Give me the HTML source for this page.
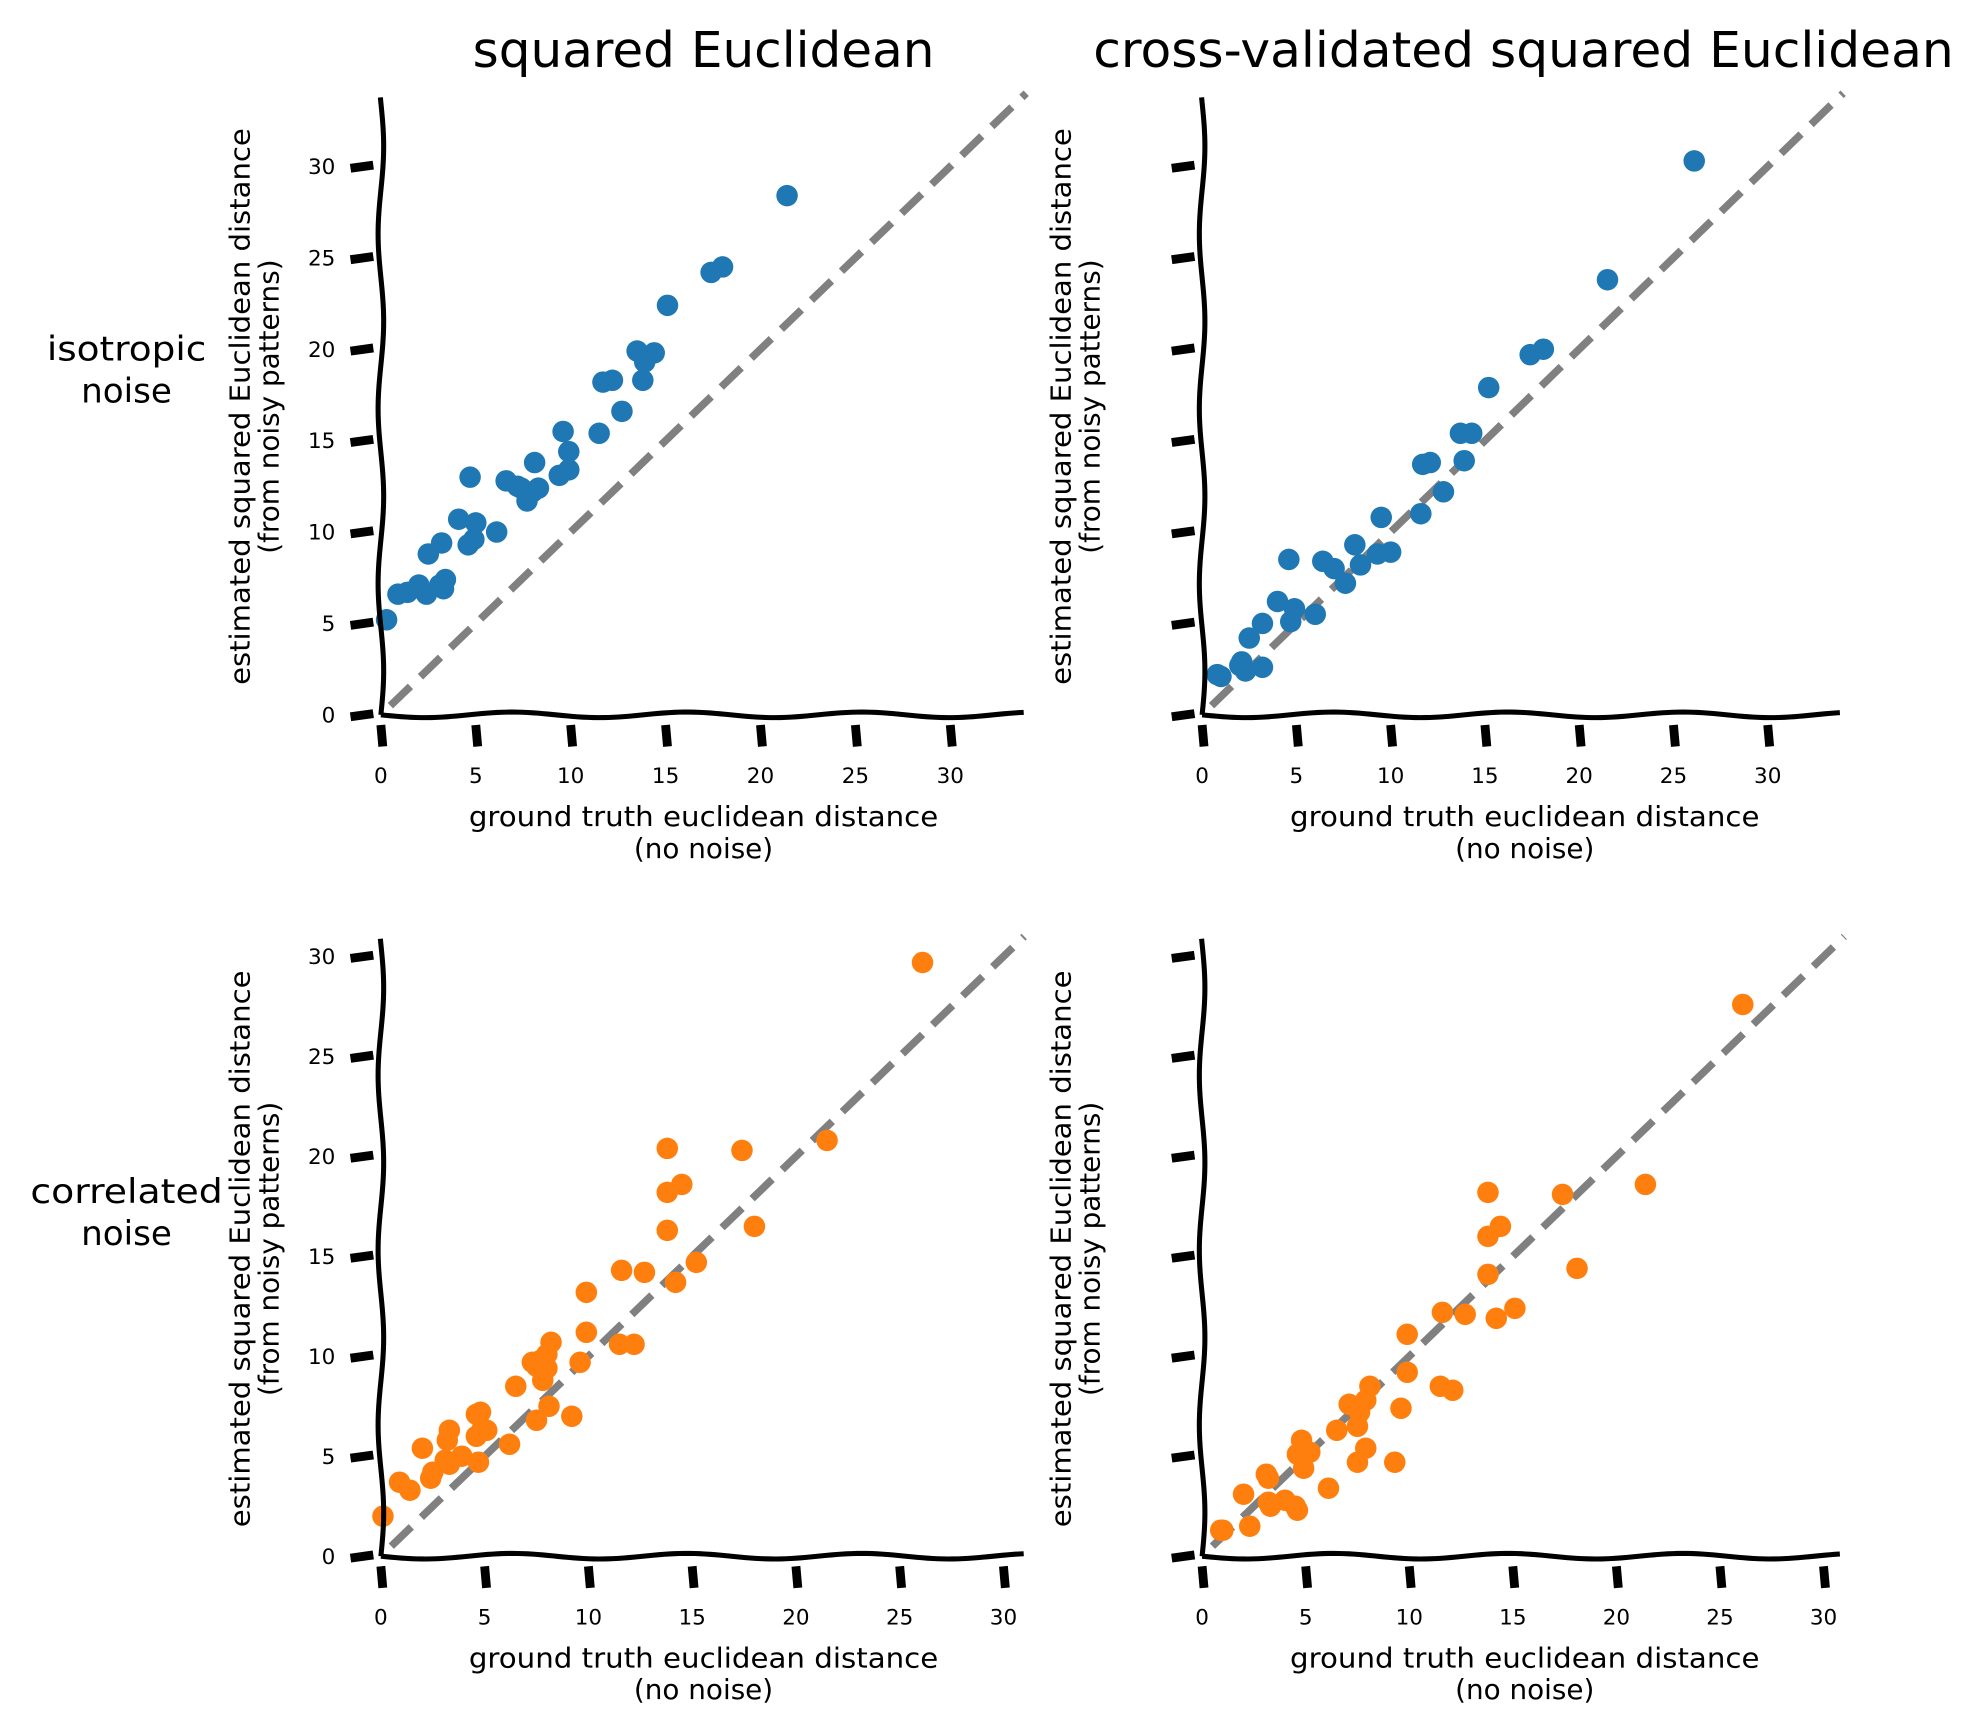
<!DOCTYPE html>
<html><head><meta charset="utf-8"><style>
html,body{margin:0;padding:0;background:#fff;}
svg{display:block;}
text{font-family:"DejaVu Sans","Liberation Sans",sans-serif;fill:#000;}
</style></head><body>
<svg id="fig" width="1974" height="1727" viewBox="0 0 1560 1365" preserveAspectRatio="none" xmlns="http://www.w3.org/2000/svg">
<rect width="1560" height="1365" fill="#fff"/>
<text x="556" y="53" font-size="39" text-anchor="middle" textLength="365" lengthAdjust="spacingAndGlyphs">squared Euclidean</text>
<text x="1204" y="53" font-size="39" text-anchor="middle" textLength="680" lengthAdjust="spacingAndGlyphs">cross-validated squared Euclidean</text>
<text x="100" y="285" font-size="27" text-anchor="middle" textLength="126" lengthAdjust="spacingAndGlyphs">isotropic</text>
<text x="100" y="318" font-size="27" text-anchor="middle">noise</text>
<text x="100" y="951" font-size="27" text-anchor="middle" textLength="152" lengthAdjust="spacingAndGlyphs">correlated</text>
<text x="100" y="984" font-size="27" text-anchor="middle">noise</text>
</svg>
<script>
const tlX=[21.4,18.0,17.4,15.1,14.4,13.5,13.9,13.8,12.2,11.7,11.5,12.7,9.6,9.9,9.9,9.4,8.1,8.3,8.0,7.4,7.7,7.2,6.6,4.7,4.1,5.0,4.6,4.9,6.1,3.2,2.5,3.4,3.1,3.3,2.4,2.0,1.4,0.9,0.3];
const tlY=[28.4,24.5,24.2,22.4,19.8,19.9,19.3,18.3,18.3,18.2,15.4,16.6,15.5,14.4,13.4,13.1,13.8,12.4,12.2,12.4,11.7,12.5,12.8,13.0,10.7,10.5,9.3,9.6,10.0,9.4,8.8,7.4,7.1,6.9,6.6,7.1,6.7,6.6,5.2];
const trX=[26.1,21.5,18.1,17.4,15.2,14.3,13.7,13.9,12.1,11.7,12.8,11.6,9.5,10.0,9.3,8.1,8.4,7.6,7.0,6.4,6.0,4.6,4.9,4.7,4.0,3.2,3.2,2.5,2.3,2.1,2.0,1.0,0.8];
const trY=[30.3,23.8,20.0,19.7,17.9,15.4,15.4,13.9,13.8,13.7,12.2,11.0,10.8,8.9,8.8,9.3,8.2,7.2,8.0,8.4,5.5,8.5,5.8,5.1,6.2,5.0,2.6,4.2,2.4,2.9,2.7,2.1,2.2];
const blX=[26.1,21.5,17.4,18.0,13.8,14.5,13.8,13.8,15.2,14.2,12.7,11.6,12.2,11.5,9.9,9.9,9.6,9.2,8.2,8.0,8.0,7.7,7.5,7.3,7.8,8.1,7.5,6.5,6.2,4.8,4.6,4.9,4.6,5.1,3.3,3.2,3.1,3.9,3.3,4.7,2.0,2.5,2.4,1.4,0.9,0.1];
const blY=[29.7,20.8,20.3,16.5,20.4,18.6,18.2,16.3,14.7,13.7,14.2,14.3,10.6,10.6,13.2,11.2,9.7,7.0,10.7,10.1,9.4,9.8,9.5,9.7,8.8,7.5,6.8,8.5,5.6,7.2,7.1,6.4,6.0,6.3,6.3,5.8,4.8,5.0,4.6,4.7,5.4,4.2,3.9,3.3,3.7,2.0];
const brX=[26.1,21.4,17.4,18.1,13.8,14.4,13.8,13.8,15.1,14.2,12.7,11.6,12.1,11.5,9.9,9.9,9.6,9.3,8.1,7.9,7.9,7.6,7.5,7.1,6.5,6.1,7.5,4.8,4.9,5.2,4.6,4.6,4.5,4.0,3.2,3.1,3.2,3.3,2.0,2.3,1.0,0.9];
const brY=[27.6,18.6,18.1,14.4,18.2,16.5,16.0,14.1,12.4,11.9,12.1,12.2,8.3,8.5,11.1,9.2,7.4,4.7,8.5,7.8,5.4,7.2,6.5,7.6,6.3,3.4,4.7,5.8,4.4,5.2,5.1,2.3,2.5,2.8,3.9,4.1,2.7,2.5,3.1,1.5,1.3,1.3];
const tickVals=[0,5,10,15,20,25,30];

const NS='http://www.w3.org/2000/svg';
const svg=document.getElementById('fig');
function mk(tag,attrs,parent){const e=document.createElementNS(NS,tag);for(const k in attrs)e.setAttribute(k,attrs[k]);(parent||svg).appendChild(e);return e;}

const panels=[
 {key:'top-left',x0:301,y0:565,sx:15,sy:14.45,max:34,xs:tlX,ys:tlY,col:'#1f77b4',ylab:true,xlY:645},
 {key:'top-right',x0:950,y0:565,sx:14.9,sy:14.45,max:34,xs:trX,ys:trY,col:'#1f77b4',ylab:false,xlY:645},
 {key:'bottom-left',x0:301,y0:1230,sx:16.4,sy:15.8,max:31,xs:blX,ys:blY,col:'#ff7f0e',ylab:true,xlY:1310},
 {key:'bottom-right',x0:950,y0:1230,sx:16.37,sy:15.8,max:31,xs:brX,ys:brY,col:'#ff7f0e',ylab:false,xlY:1310}
];
panels.forEach(p=>{
 const g=mk('g',{});
 
 
 const X=v=>p.x0+v*p.sx, Y=v=>p.y0-v*p.sy;
 const xEnd=X(p.max), yTop=Y(p.max);
 const dl=mk('line',{x1:X(0.5),y1:Y(0.5),x2:xEnd,y2:yTop,stroke:'#808080','stroke-width':6,'stroke-dasharray':'22,11'},g);
 
 
 p.xs.forEach((v,i)=>{
  const c=mk('circle',{cx:X(v),cy:Y(p.ys[i]),r:8.5,fill:p.col},g);
  
  
 });
 let d='M'+p.x0+' '+p.y0;
 for(let x=p.x0;x<=xEnd;x+=4){d+=' L'+x+' '+(p.y0+2.2*Math.sin((x-p.x0)/22));}
 const xa=mk('path',{d:d,fill:'none',stroke:'#000','stroke-width':4},g);
 
 
 d='M'+p.x0+' '+p.y0;
 for(let y=p.y0;y>=yTop;y-=4){d+=' L'+(p.x0+2.2*Math.sin((p.y0-y)/22))+' '+y;}
 const ya=mk('path',{d:d,fill:'none',stroke:'#000','stroke-width':4},g);
 
 
 tickVals.forEach(t=>{
  const xt=mk('line',{x1:X(t),y1:p.y0+8,x2:X(t)+1.5,y2:p.y0+25,stroke:'#000','stroke-width':7},g);
  
  
  const xl=mk('text',{x:X(t),y:p.y0+54,'font-size':17,'text-anchor':'middle'},g);
  xl.textContent=t;
  
  
  const yt=mk('line',{x1:p.x0-24,y1:Y(t)+1.5,x2:p.x0-6,y2:Y(t)-1,stroke:'#000','stroke-width':7},g);
  
  
  if(p.ylab){
   const yl=mk('text',{x:p.x0-36,y:Y(t)+6,'font-size':17,'text-anchor':'end'},g);
   yl.textContent=t;
   
   
  }
 });
 const cx=p.x0+255;
 const l1=mk('text',{x:cx,y:p.xlY+8,'font-size':22,'text-anchor':'middle',textLength:371,lengthAdjust:'spacingAndGlyphs'},g);
 l1.textContent='ground truth euclidean distance';
 
 
 const l2=mk('text',{x:cx,y:p.xlY+33,'font-size':22,'text-anchor':'middle'},g);
 l2.textContent='(no noise)';
 
 
 const my=p.y0-p.max*p.sy/2+2;
 const y1=mk('text',{x:0,y:0,'font-size':22,'text-anchor':'middle',textLength:440,lengthAdjust:'spacingAndGlyphs',transform:'translate('+(p.x0-104)+','+my+') rotate(-90)'},g);
 y1.textContent='estimated squared Euclidean distance';
 
 
 const y2=mk('text',{x:0,y:0,'font-size':22,'text-anchor':'middle',transform:'translate('+(p.x0-81)+','+my+') rotate(-90)'},g);
 y2.textContent='(from noisy patterns)';
 
 
});
</script>
</body></html>
